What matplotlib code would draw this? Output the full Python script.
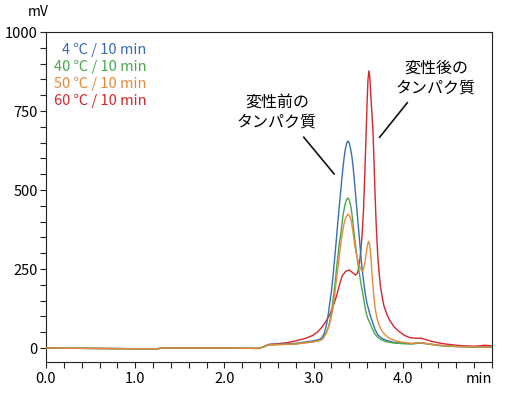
import matplotlib
matplotlib.use('Agg')
import matplotlib.pyplot as plt
from matplotlib.ticker import MultipleLocator

plt.rcParams['font.family'] = ['Noto Sans CJK JP', 'DejaVu Sans']

# --- chromatogram readings (time in min, signal in mV) ---
t_4c = [0, 0.5, 1.0, 1.25, 1.3, 2.0, 2.38, 2.43, 2.5, 2.6, 2.8, 3.0, 3.07, 3.1, 3.12,
        3.14, 3.16, 3.18, 3.2, 3.22, 3.24, 3.26, 3.28, 3.3, 3.32, 3.34, 3.355, 3.37,
        3.385, 3.4, 3.415, 3.43, 3.445, 3.46, 3.48, 3.5, 3.52, 3.535, 3.55, 3.57,
        3.585, 3.6, 3.63, 3.665, 3.69, 3.72, 3.76, 3.8, 3.9, 4.0, 4.1, 4.2, 4.3, 4.4,
        4.6, 4.8, 5.0]
y_4c = [0, -1, -2, -2, 0, 0, -1, 3, 11, 12, 15, 23, 28, 36, 48,
        68, 98, 140, 180, 235, 295, 360, 425, 485, 545, 598, 628, 648,
        655, 648, 630, 605, 568, 521, 455, 390, 325, 275, 235, 190,
        162, 140, 108, 78, 58, 42, 32, 26, 18, 15, 14, 17, 13, 9,
        5, 4, 3]

t_40c = [0, 0.5, 1.0, 1.25, 1.3, 2.0, 2.38, 2.43, 2.5, 2.6, 2.8, 3.0, 3.08, 3.11, 3.14,
         3.17, 3.19, 3.21, 3.23, 3.25, 3.27, 3.29, 3.31, 3.33, 3.35, 3.37, 3.385, 3.4,
         3.42, 3.435, 3.45, 3.47, 3.49, 3.51, 3.53, 3.55, 3.57, 3.59, 3.61, 3.63, 3.66,
         3.685, 3.72, 3.76, 3.815, 3.9, 4.0, 4.1, 4.2, 4.3, 4.4, 4.6, 4.8, 5.0]
y_40c = [0, -1, -2, -2, 0, 0, -1, 3, 10, 11, 13, 20, 25, 32, 48,
         70, 95, 135, 180, 232, 285, 335, 373, 420, 452, 470, 475, 468,
         445, 412, 373, 325, 280, 242, 205, 175, 140, 110, 92, 80, 60,
         45, 34, 26, 20, 16, 14, 13, 16, 12, 8, 5, 3, 2]

t_50c = [0, 0.5, 1.0, 1.25, 1.3, 2.0, 2.38, 2.43, 2.5, 2.6, 2.8, 3.0, 3.08, 3.11, 3.14,
         3.17, 3.19, 3.21, 3.235, 3.255, 3.28, 3.3, 3.32, 3.34, 3.36, 3.385, 3.4, 3.42,
         3.44, 3.464, 3.485, 3.505, 3.525, 3.545, 3.56, 3.575, 3.59, 3.605, 3.617, 3.63,
         3.645, 3.66, 3.675, 3.69, 3.71, 3.735, 3.76, 3.8, 3.85, 3.9, 3.96, 4.04, 4.1,
         4.2, 4.3, 4.4, 4.6, 4.8, 5.0]
y_50c = [0, -1, -2, -2, 0, 0, -1, 3, 10, 11, 13, 20, 25, 32, 45,
         68, 88, 115, 165, 215, 270, 321, 360, 392, 413, 424, 420, 405,
         370, 321, 290, 268, 252, 243, 250, 270, 300, 328, 338, 325,
         280, 215, 165, 125, 95, 72, 57, 42, 31, 25, 20, 17, 15,
         17, 13, 9, 5, 4, 3]

t_60c = [0, 0.5, 1.0, 1.25, 1.3, 2.0, 2.38, 2.43, 2.5, 2.6, 2.7, 2.8, 2.9, 2.99, 3.04,
         3.09, 3.14, 3.18, 3.22, 3.255, 3.29, 3.32, 3.36, 3.4, 3.44, 3.47, 3.49, 3.51,
         3.53, 3.547, 3.56, 3.575, 3.59, 3.6, 3.61, 3.62, 3.63, 3.64, 3.65, 3.665, 3.675,
         3.685, 3.695, 3.705, 3.72, 3.735, 3.75, 3.77, 3.79, 3.82, 3.85, 3.9, 3.96, 4.02,
         4.08, 4.15, 4.21, 4.26, 4.3, 4.375, 4.45, 4.6, 4.7, 4.82, 4.92, 5.0]
y_60c = [0, -1, -2, -2, 0, 0, -1, 3, 12, 14, 17, 23, 30, 40, 50,
         65, 85, 105, 133, 163, 200, 228, 243, 247, 238, 231, 236, 258,
         310, 373, 440, 560, 690, 780, 850, 877, 860, 805, 760, 690, 610,
         520, 440, 370, 290, 235, 195, 160, 132, 108, 89, 68, 52, 40,
         33, 31, 31, 27, 23, 18, 14, 9, 7, 6, 9, 7]

series = [
    ('4 \u2103 / 10 min', t_4c, y_4c, '#3b6db3'),
    ('40 \u2103 / 10 min', t_40c, y_40c, '#4aa84a'),
    ('50 \u2103 / 10 min', t_50c, y_50c, '#e8893c'),
    ('60 \u2103 / 10 min', t_60c, y_60c, '#d9252b'),
]

fig = plt.figure(figsize=(5.06, 3.99), dpi=100)
ax = fig.add_axes([46 / 506, 1 - 362 / 399, 446 / 506, 330 / 399])

for label, t, y, c in series:
    ax.plot(t, y, color=c, lw=1.0, zorder=3 if c != '#d9252b' else 2)

ax.set_xlim(0, 5.0)
ax.set_ylim(-44, 1000)

ax.xaxis.set_minor_locator(MultipleLocator(0.2))
ax.yaxis.set_minor_locator(MultipleLocator(50))
ax.set_xticks([0, 1, 2, 3, 4, 5])
ax.set_xticklabels(['0.0', '1.0', '2.0', '3.0', '4.0', 'min'])
ax.get_xticklabels()[-1].set_horizontalalignment('right')
ax.set_yticks([0, 250, 500, 750, 1000])
ax.set_yticklabels(['0', '250', '500', '750', '1000'])

ax.tick_params(which='both', direction='out', length=4.5, width=0.8, color='#222222')
ax.tick_params(axis='x', labelsize=10.5, pad=3)
ax.tick_params(axis='y', labelsize=10.5, pad=1.5)
for s in ax.spines.values():
    s.set_linewidth(0.8)
    s.set_color('#222222')

ax.text(-0.018, 1.06, 'mV', transform=ax.transAxes, ha='center', va='center', fontsize=10)

# legend as coloured text
legend_y = [943, 889, 835, 782]
for (label, t, y, c), ly in zip(series, legend_y):
    ax.text(1.13, ly, label, color=c, ha='right', va='center', fontsize=10.5)

# annotations
ax.text(2.59, 778, '変性前の', ha='center', va='center', fontsize=11.5)
ax.text(2.59, 715, 'タンパク質', ha='center', va='center', fontsize=11.5)
ax.plot([2.89, 3.23], [667, 551], color='#111111', lw=1.2)

ax.text(4.37, 886, '変性後の', ha='center', va='center', fontsize=11.5)
ax.text(4.37, 823, 'タンパク質', ha='center', va='center', fontsize=11.5)
ax.plot([4.05, 3.74], [776, 667], color='#111111', lw=1.2)

plt.savefig('out.png', dpi=100)
plt.close()
